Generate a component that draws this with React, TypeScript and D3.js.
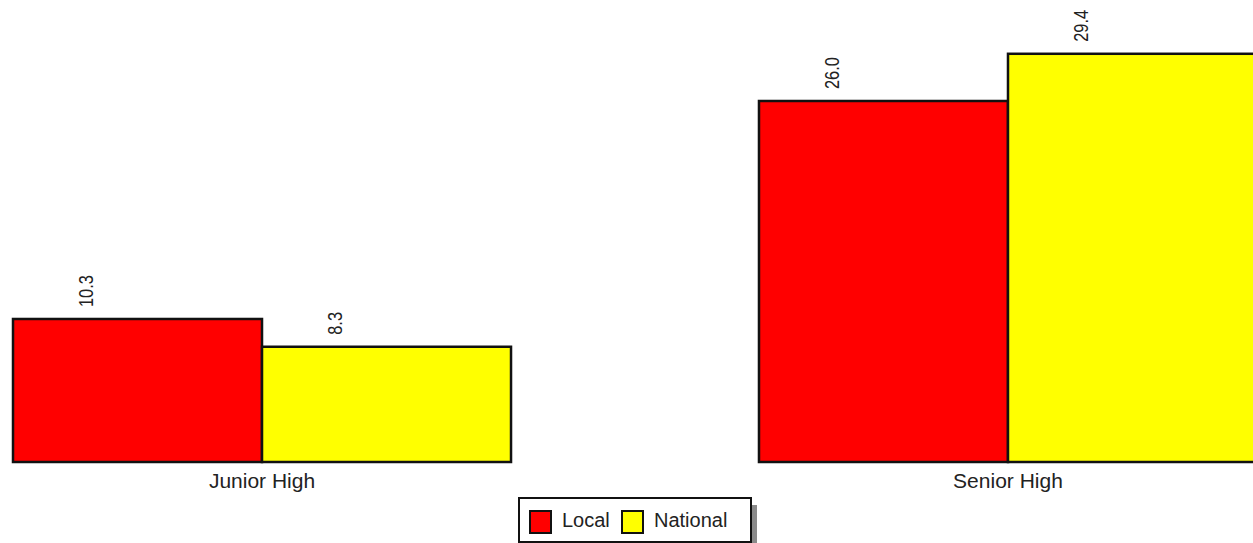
import React from "react";
import * as d3 from "d3";

const categories = ["Junior High", "Senior High"];
const seriesNames = ["Local", "National"];
const localValues = [10.3, 26.0];
const nationalValues = [8.3, 29.4];
const colors = ["#ff0000", "#ffff00"];

const W = 1253;
const H = 543;
const FONT = "Liberation Sans, Arial, sans-serif";

export default function App() {
  const series = [localValues, nationalValues];
  const x0 = d3.scaleBand<string>().domain(categories).range([13, 1257]).paddingInner(0.3324).paddingOuter(0);
  const x1 = d3.scaleBand<string>().domain(seriesNames).range([0, x0.bandwidth()]).padding(0);
  const y = d3.scaleLinear().domain([0, 30]).range([462, 462 - 30 * 13.885]);

  return (
    <svg width={W} height={H} style={{ position: "absolute", left: 0, top: 0 }} fontFamily={FONT}>
      <rect width={W} height={H} fill="#fff" />
      {categories.map((c, ci) => (
        <g key={c}>
          {seriesNames.map((s, si) => {
            const v = series[si][ci];
            const bx = (x0(c) as number) + (x1(s) as number);
            const by = y(v);
            return (
              <g key={s}>
                <rect x={bx} y={by} width={x1.bandwidth()} height={y(0) - by} fill={colors[si]} stroke="#111" strokeWidth={2.5} />
                <text
                  transform={`translate(${bx + 73},${by - 12}) rotate(-90) scale(0.82,1)`}
                  fontSize={20}
                  dominantBaseline="central"
                  textAnchor="start"
                  fill="#222"
                >
                  {v.toFixed(1)}
                </text>
              </g>
            );
          })}
          <text x={(x0(c) as number) + x0.bandwidth() / 2} y={488} fontSize={21} textAnchor="middle" fill="#222">
            {c}
          </text>
        </g>
      ))}
      <g>
        <rect x={751} y={505} width={6} height={40} fill="#8a8a8a" />
        <rect x={526} y={543} width={231} height={6} fill="#8a8a8a" />
        <rect x={519} y={498} width={232} height={44} fill="#fff" stroke="#111" strokeWidth={2} />
        {seriesNames.map((s, i) => {
          const sx = i === 0 ? 530 : 622;
          return (
            <g key={s}>
              <rect x={sx} y={511} width={21} height={22} fill={colors[i]} stroke="#111" strokeWidth={2} />
              <text x={sx + 32} y={527} fontSize={20} fill="#222">
                {s}
              </text>
            </g>
          );
        })}
      </g>
    </svg>
  );
}
